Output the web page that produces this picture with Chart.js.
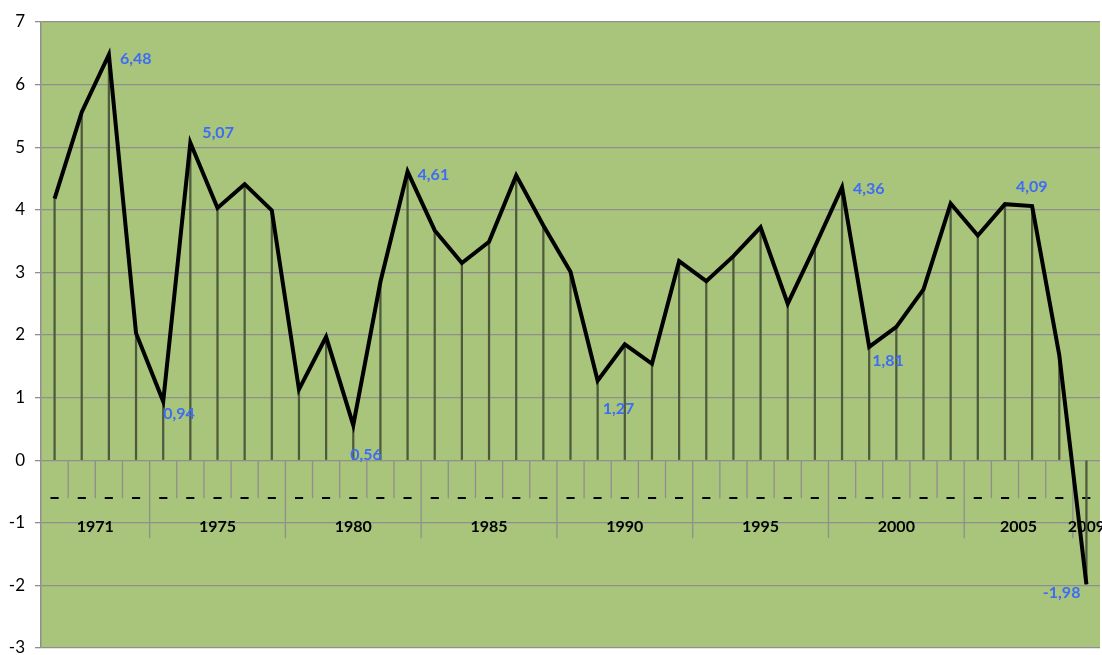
<!DOCTYPE html>
<html>
<head>
<meta charset="utf-8">
<title>Croissance 1971-2009</title>
<script src="https://cdn.jsdelivr.net/npm/chart.js@4.4.1/dist/chart.umd.min.js"></script>
<style>
  html, body { margin: 0; padding: 0; background: #fff; }
  #wrap { width: 1102px; height: 655px; }
</style>
</head>
<body>
<div id="wrap"><canvas id="growthChart"></canvas></div>
<script>
// Annual growth rate, %
const years = [1971, 1972, 1973, 1974, 1975, 1976, 1977, 1978, 1979, 1980,
               1981, 1982, 1983, 1984, 1985, 1986, 1987, 1988, 1989, 1990,
               1991, 1992, 1993, 1994, 1995, 1996, 1997, 1998, 1999, 2000,
               2001, 2002, 2003, 2004, 2005, 2006, 2007, 2008, 2009];
const growth = [4.18, 5.56, 6.48, 2.03, 0.94, 5.07, 4.03, 4.41, 3.99, 1.13,
                1.97, 0.56, 2.85, 4.61, 3.67, 3.15, 3.49, 4.55, 3.75, 3.01,
                1.27, 1.85, 1.54, 3.18, 2.86, 3.26, 3.72, 2.50, 3.41, 4.36,
                1.81, 2.13, 2.73, 4.10, 3.59, 4.09, 4.06, 1.68, -1.98];

// second-level axis groups: label and number of years under it
const groupLabels = ["1971", "1975", "1980", "1985", "1990", "1995", "2000", "2005", "2009"];
const groupSizes = [4, 5, 5, 5, 5, 5, 5, 4, 1];

// years whose value is written next to the point
const labelledYears = [1973, 1975, 1976, 1982, 1984, 1991, 2000, 2001, 2006, 2009];

const FONT = "Lato, 'Open Sans', sans-serif";
const GRID = "#8f8f8f";

// where each value label sits relative to its point
const labelPlace = {
  1973: [11, 4, "left"], 1975: [0, 12, "left"], 1976: [12, -10, "left"],
  1982: [-3, 30, "left"], 1984: [10, 3, "left"], 1991: [5, 28, "left"],
  2000: [11, 2, "left"], 2001: [3, 14, "left"], 2006: [11, -17, "left"],
  2009: [-6, 9, "right"]
};

const plotBackground = {
  id: "plotBackground",
  beforeDraw(chart) {
    const { ctx, chartArea: a } = chart;
    ctx.save();
    ctx.fillStyle = "#a9c47b";
    ctx.fillRect(a.left, a.top, a.right - a.left, a.bottom - a.top);
    ctx.restore();
  }
};

// category ticks, dashes and grouped year labels hanging under the zero line
const groupedAxis = {
  id: "groupedAxis",
  beforeDatasetsDraw(chart) {
    const { ctx } = chart;
    const x = chart.scales.x, y = chart.scales.y;
    const y0 = y.getPixelForValue(0);
    const half = (x.getPixelForValue(1) - x.getPixelForValue(0)) / 2;
    ctx.save();
    ctx.strokeStyle = GRID;
    ctx.lineWidth = 1.3;
    const groupEdges = new Set();
    let acc = 0;
    groupSizes.forEach(n => { acc += n; groupEdges.add(acc); });
    for (let i = 1; i < years.length; i++) {
      const bx = x.getPixelForValue(i - 1) + half;
      ctx.beginPath();
      ctx.moveTo(bx, y0);
      ctx.lineTo(bx, y0 + (groupEdges.has(i) ? 78 : 38));
      ctx.stroke();
    }
    ctx.fillStyle = "#000";
    ctx.textAlign = "center";
    ctx.textBaseline = "middle";
    ctx.font = "900 20px " + FONT;
    years.forEach((yr, i) => ctx.fillText("–", x.getPixelForValue(i), y0 + 37));
    ctx.font = "bold 16px " + FONT;
    let start = 0;
    groupLabels.forEach((lab, g) => {
      const first = x.getPixelForValue(start) - half;
      const last = x.getPixelForValue(start + groupSizes[g] - 1) + half;
      ctx.fillText(lab, (first + last) / 2, y0 + 67);
      start += groupSizes[g];
    });
    ctx.restore();
  }
};

const valueLabels = {
  id: "valueLabels",
  afterDatasetsDraw(chart) {
    const { ctx } = chart;
    const meta = chart.getDatasetMeta(1);
    ctx.save();
    ctx.fillStyle = "#3d6cf5";
    ctx.font = "bold 16px " + FONT;
    ctx.textBaseline = "middle";
    labelledYears.forEach(yr => {
      const i = years.indexOf(yr);
      const pt = meta.data[i];
      const [dx, dy, align] = labelPlace[yr];
      ctx.textAlign = align;
      ctx.fillText(growth[i].toFixed(2).replace(".", ","), pt.x + dx, pt.y + dy);
    });
    ctx.restore();
  }
};

const ctx = document.getElementById("growthChart").getContext("2d");
const growthChart = new Chart(ctx, {
  type: "bar",
  data: {
    labels: years,
    datasets: [
      {
        // thin drop lines from zero to each point
        type: "bar",
        data: growth,
        backgroundColor: "#4e5a3c",
        barThickness: 1.6,
        order: 2
      },
      {
        type: "line",
        data: growth,
        borderColor: "#000",
        borderWidth: 4,
        pointRadius: 0,
        tension: 0,
        order: 1
      }
    ]
  },
  options: {
    responsive: true,
    maintainAspectRatio: false,
    animation: false,
    layout: { padding: { top: 22, right: 2, bottom: 7, left: 0 } },
    plugins: {
      legend: { display: false },
      tooltip: { enabled: false }
    },
    scales: {
      x: { display: false, offset: true },
      y: {
        min: -3,
        max: 7,
        afterFit: s => { s.width = 41; s.paddingTop = 0; s.paddingBottom = 0; },
        ticks: {
          stepSize: 1,
          color: "#000",
          padding: 10,
          font: { family: FONT, size: 17 }
        },
        grid: { color: GRID, lineWidth: 1.3, tickLength: 6 },
        border: { color: GRID, width: 1.5 }
      }
    }
  },
  plugins: [plotBackground, groupedAxis, valueLabels]
});
</script>
</body>
</html>
